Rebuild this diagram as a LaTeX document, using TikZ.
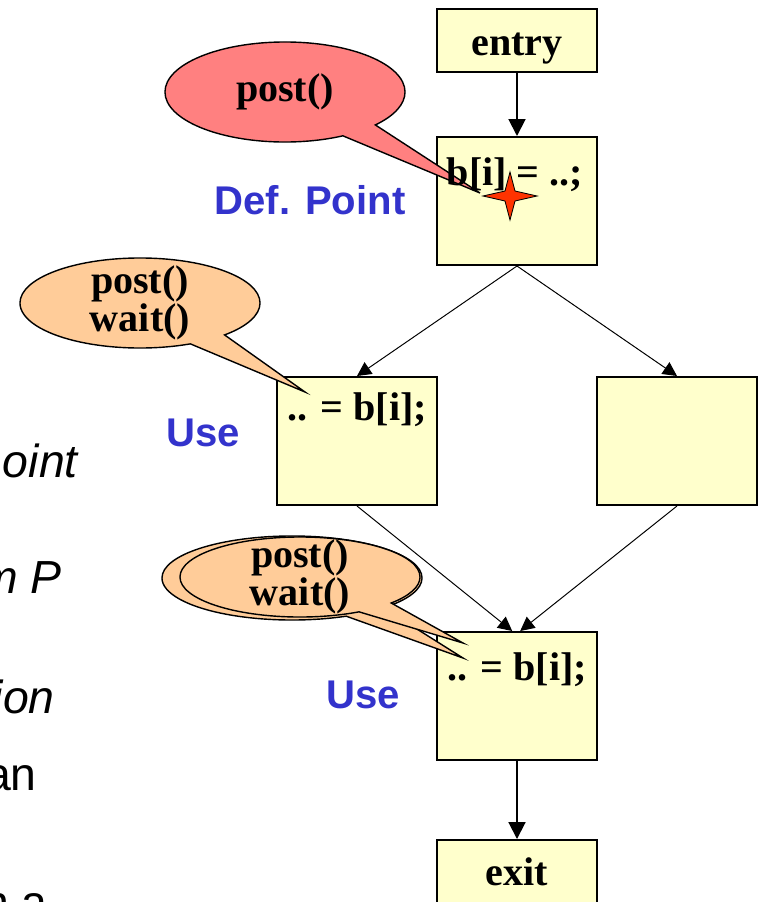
\documentclass[tikz,border=0pt]{standalone}
\usepackage{fontspec}
\setmainfont{Liberation Serif}
\setsansfont{Liberation Sans}
\usetikzlibrary{shapes.geometric,shapes.callouts,arrows.meta}

\definecolor{boxfill}{RGB}{255,255,204}
\definecolor{defred}{RGB}{255,128,128}
\definecolor{useorange}{RGB}{255,204,153}
\definecolor{labelblue}{RGB}{51,51,204}
\definecolor{starred}{RGB}{255,51,0}

\tikzset{
  blk/.style={draw, line width=1.4pt, fill=boxfill, minimum width=4cm, inner sep=0pt},
  code/.style={inner sep=0pt, align=center, font=\fontsize{28.5}{27}\selectfont\bfseries},
  bubble/.style={ellipse callout, draw, line width=1pt, inner sep=0pt, callout pointer arc=20},
  tag/.style={inner sep=0pt, text=labelblue, font=\fontsize{28.5}{28.5}\selectfont\sffamily\bfseries},
  side/.style={inner sep=0pt, anchor=base east, font=\fontsize{33}{33}\selectfont\sffamily},
  bigarr/.style={line width=1.4pt, -{Triangle[length=12pt,width=12pt]}},
  thinarr/.style={line width=0.7pt, -{Triangle[length=10pt,width=10pt]}}
}

\begin{document}
\begin{tikzpicture}[x=0.025cm,y=-0.025cm]
\useasboundingbox (0,0) rectangle (761,902);

% text of the slide behind the picture
\node[side] (t1) at (78,477) {\itshape oint};
\node[side] (t2) at (62,593) {\itshape m P};
\node[side] (t3) at (55,713) {\itshape ion};
\node[side] (t4) at (37,790) {an};
\node[side] (t5) at (48,918) {in a};

% control flow graph
\node[blk, minimum height=1.575cm] (entry) at (517,40.5) {};
\node[blk, minimum height=3.2cm] (def) at (517,201) {};
\node[blk, minimum height=3.2cm] (useL) at (357,441) {};
\node[blk, minimum height=3.2cm] (other) at (677,441) {};
\node[blk, minimum height=3.2cm] (useB) at (517,696) {};
\node[blk, minimum height=1.575cm] (exit) at (517,871.5) {};

\draw[bigarr] (entry) -- (def);
\draw[thinarr] (def.south) -- (useL.north);
\draw[thinarr] (def.south) -- (other.north);
\draw[thinarr] (useL.south) -- ([xshift=-0.12cm]useB.north);
\draw[thinarr] (other.south) -- ([xshift=0.08cm]useB.north);
\draw[bigarr] (useB) -- (exit);

% where the callouts point
\coordinate (deftip) at (480,193);
\coordinate (usetip) at (305,392);
\coordinate (backtip) at (463,658);
\coordinate (fronttip) at (463,643);
\coordinate (defpt) at (510,196);

\node[bubble, fill=defred, minimum width=6cm, minimum height=2.5cm,
  callout absolute pointer={(deftip)}] (postA) at (285,92) {};
\node[code] (postAtxt) at (postA.center) {post()};

\node[bubble, fill=useorange, minimum width=6cm, minimum height=2.25cm,
  callout absolute pointer={(usetip)}] (syncL) at (140,303) {};
\node[code] (syncLtxt) at (syncL.center) {post()\\wait()};

\node[bubble, fill=useorange, minimum width=6.5cm, minimum height=2.1cm,
  callout absolute pointer={(backtip)}] (syncB2) at (292,578) {};
\node[bubble, fill=useorange, minimum width=6cm, minimum height=2cm,
  callout absolute pointer={(fronttip)}] (syncB) at (300,577) {};
\node[code] (syncBtxt) at (syncB.center) {post()\\wait()};

% statements inside the blocks
\node[code, anchor=base] (entrytxt) at (517,55) {entry};
\node[code] (deftxt) at (515,175) {b[i] = ..;};
\node[code] (useLtxt) at (357,410) {.. = b[i];};
\node[code] (useBtxt) at (517,670) {.. = b[i];};
\node[code, anchor=base] (exittxt) at (517,885) {exit};

\draw[fill=starred, line width=0.6pt] (defpt) ++(-27,0) -- ++(22,-5) -- ++(5,-19)
  -- ++(5,19) -- ++(22,5) -- ++(-22,5) -- ++(-5,19) -- ++(-5,-19) -- cycle;

\node[tag] (deflbl) at (310,200) {Def. Point};
\node[tag] (uselblL) at (203,433) {Use};
\node[tag] (uselblB) at (363,695) {Use};
\end{tikzpicture}
\end{document}
